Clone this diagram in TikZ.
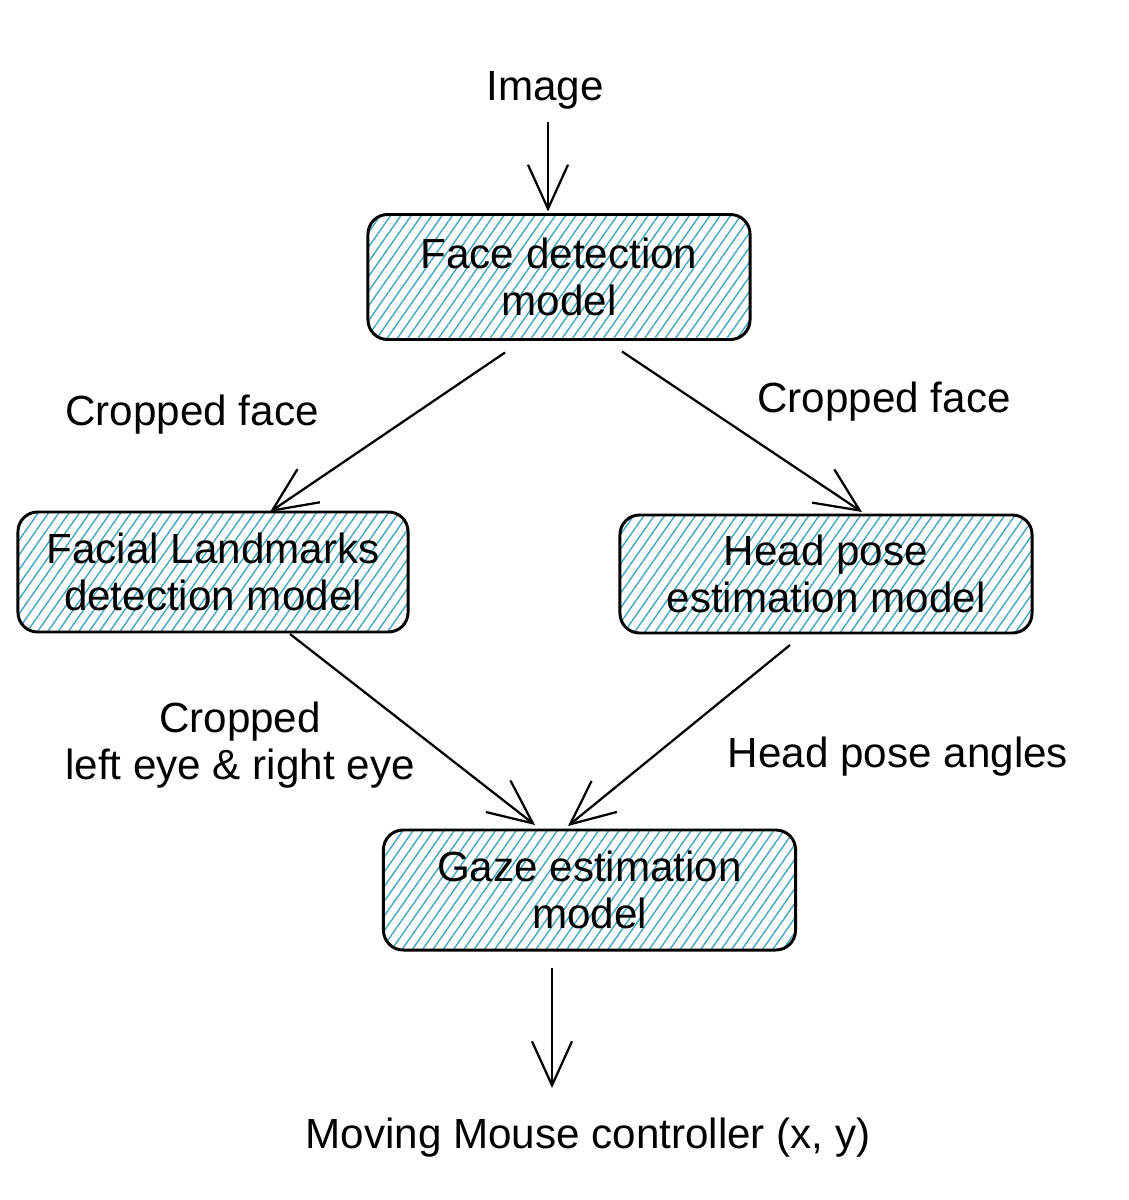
\documentclass[tikz,border=0pt]{standalone}
\usepackage{fontspec}
\setmainfont{Liberation Sans}
\usetikzlibrary{arrows.meta,patterns.meta,calc}

\definecolor{hatchblue}{HTML}{45A6BE}

\tikzset{
  model/.style={draw=black, line width=2.1pt, rounded corners=14pt, align=center,
    pattern={Lines[angle=55,distance=6pt,line width=1pt]}, pattern color=hatchblue,
    inner sep=0pt, outer sep=0pt},
  flow/.style={line width=1.6pt, -{Straight Barb[length=1.1cm,width=1.0cm,line width=1.6pt]}},
  label/.style={align=center}
}

\begin{document}
\begin{tikzpicture}[x=0.025cm, y=-0.025cm, font=\fontsize{30}{34}\selectfont]

\useasboundingbox (0,0) rectangle (1128,1200);

\node (image) at (545, 90) {Image};

\node[model, minimum width=9.55cm, minimum height=3.125cm] (face) at (559, 277)
                        {Face detection\\model};

\node[model, minimum width=9.75cm, minimum height=3cm] (landmarks) at (213, 572)
                        {Facial Landmarks\\detection model};

\node[model, minimum width=10.3cm, minimum height=2.95cm] (headpose) at (826, 574)
                        {Head pose\\estimation model};

\node[model, minimum width=10.3cm, minimum height=3cm] (gaze) at (589.5, 890)
                        {Gaze estimation\\model};

\node (mouse) at (588, 1138) {Moving Mouse controller (x, y)};

\node[label] (cropleft) at (192, 415) {Cropped face};
\node[label] (cropright) at (884, 402) {Cropped face};
\node[label] (eyes) at (240, 745) {Cropped\\left eye \& right eye};
\node[label] (angles) at (898, 757) {Head pose angles};

% connectors
\draw[flow] ($(image.south)+(3,8)$) -- ($(image.south |- face.north)+(3,-3)$);

\draw[flow] ($(face.south)+(-54,13)$) -- ($(landmarks.north)+(57,0)$);
\draw[flow] ($(face.south)+(63,12)$) -- ($(headpose.north)+(36,-3)$);

\draw[flow] ($(landmarks.south)+(77,2)$) -- ($(gaze.north)+(-54.5,-5)$);
\draw[flow] ($(headpose.south)+(-36,12)$) -- ($(gaze.north)+(-21.5,-4)$);

\draw[flow] ($(gaze.south)+(-37.5,18)$) -- ($(gaze.south)+(-37.5,138)$);

\end{tikzpicture}
\end{document}
